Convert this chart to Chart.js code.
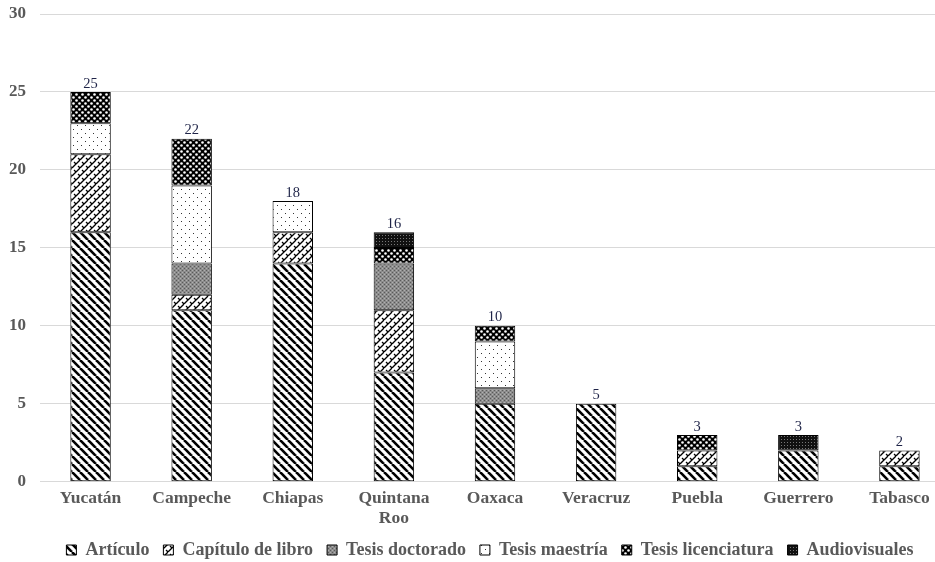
<!DOCTYPE html>
<html>
<head>
<meta charset="utf-8">
<script src="https://cdn.jsdelivr.net/npm/chart.js@4.4.0/dist/chart.umd.min.js"></script>
<style>
  html, body { margin: 0; padding: 0; background: #fff; overflow: hidden; }
  #wrap { width: 955px; height: 562px; }
</style>
</head>
<body>
<div id="wrap"><canvas id="myChart" width="955" height="562"></canvas></div>
<script>
var estados = ['Yucatán', 'Campeche', 'Chiapas', ['Quintana', 'Roo'], 'Oaxaca', 'Veracruz', 'Puebla', 'Guerrero', 'Tabasco'];
var articulo = [16, 11, 14, 7, 5, 5, 1, 2, 1];
var capitulo = [5, 1, 2, 4, 0, 0, 1, 0, 1];
var doctorado = [0, 2, 0, 3, 1, 0, 0, 0, 0];
var maestria = [2, 5, 2, 0, 3, 0, 0, 0, 0];
var licenciatura = [2, 3, 0, 1, 1, 0, 1, 0, 0];
var audiovisuales = [0, 0, 0, 1, 0, 0, 0, 1, 0];
var yTicks = [0, 5, 10, 15, 20, 25, 30];

function tile(size, draw) {
  var c = document.createElement('canvas');
  c.width = size; c.height = size;
  var g = c.getContext('2d');
  draw(g, size);
  return document.getElementById('myChart').getContext('2d').createPattern(c, 'repeat');
}

var patArticulo = tile(8, function(g, s) {
  g.fillStyle = '#fff'; g.fillRect(0, 0, s, s);
  g.strokeStyle = '#000'; g.lineWidth = 2.6;
  for (var k = -1; k <= 1; k++) {
    g.beginPath(); g.moveTo(k * s, 0); g.lineTo(k * s + s, s); g.stroke();
  }
});
var patCapitulo = tile(8, function(g, s) {
  g.fillStyle = '#fff'; g.fillRect(0, 0, s, s);
  g.strokeStyle = '#000'; g.lineWidth = 1.3;
  for (var k = -1; k <= 1; k++) {
    g.beginPath(); g.moveTo(k * s, s); g.lineTo(k * s + s, 0); g.stroke();
  }
  g.beginPath(); g.moveTo(2, 2); g.lineTo(4, 4); g.stroke();
  g.beginPath(); g.moveTo(6, 6); g.lineTo(8, 8); g.stroke();
});
var patDoctorado = tile(4, function(g, s) {
  g.fillStyle = '#8c8c8c'; g.fillRect(0, 0, s, s);
  g.fillStyle = '#5a5a5a';
  g.fillRect(0, 0, 1, 1); g.fillRect(2, 2, 1, 1);
  g.fillStyle = '#b0b0b0';
  g.fillRect(2, 0, 1, 1); g.fillRect(0, 2, 1, 1);
});
var patMaestria = tile(8, function(g, s) {
  g.fillStyle = '#fff'; g.fillRect(0, 0, s, s);
  g.fillStyle = '#333';
  g.fillRect(1, 1, 1, 1); g.fillRect(5, 5, 1, 1);
});
var patLicenciatura = tile(6, function(g, s) {
  g.fillStyle = '#000'; g.fillRect(0, 0, s, s);
  g.fillStyle = '#fff';
  g.beginPath(); g.arc(1.5, 1.5, 1.3, 0, Math.PI * 2); g.fill();
  g.beginPath(); g.arc(4.5, 4.5, 1.3, 0, Math.PI * 2); g.fill();
});
var patAudio = tile(3, function(g, s) {
  g.fillStyle = '#111'; g.fillRect(0, 0, s, s);
  g.fillStyle = '#777';
  g.fillRect(1, 1, 1, 1);
});

var totalsPlugin = {
  id: 'totals',
  afterDatasetsDraw: function(chart) {
    var ctx = chart.ctx;
    var yScale = chart.scales.y;
    var meta = chart.getDatasetMeta(0);
    ctx.save();
    ctx.font = '14.5px "Liberation Serif"';
    ctx.fillStyle = '#1f2448';
    ctx.textAlign = 'center';
    ctx.textBaseline = 'bottom';
    for (var i = 0; i < estados.length; i++) {
      var sum = 0;
      chart.data.datasets.forEach(function(ds) { sum += ds.data[i]; });
      ctx.fillText(sum, meta.data[i].x, yScale.getPixelForValue(sum) - 1);
    }
    ctx.restore();
  }
};

// legend: keep the wide spacing between items but a short box, and nudge it
var legendPlugin = {
  id: 'legendFit',
  beforeInit: function(chart) {
    var orig = chart.legend.fit;
    chart.legend.fit = function() {
      orig.bind(chart.legend)();
      this.height = 26;
    };
  },
  afterLayout: function(chart) {
    var lg = chart.legend;
    lg.top -= 9;
    lg.left += 15; lg.right += 15;
  }
};

function ds(label, data, pat) {
  return {
    label: label, data: data, backgroundColor: pat,
    borderColor: '#000', borderSkipped: false,
    borderWidth: function(c) { return c.raw ? 1 : 0; },
    categoryPercentage: 1, barPercentage: 0.4
  };
}

var myChart = new Chart(document.getElementById('myChart').getContext('2d'), {
  type: 'bar',
  data: {
    labels: estados,
    datasets: [
      ds('Artículo', articulo, patArticulo),
      ds('Capítulo de libro', capitulo, patCapitulo),
      ds('Tesis doctorado', doctorado, patDoctorado),
      ds('Tesis maestría', maestria, patMaestria),
      ds('Tesis licenciatura', licenciatura, patLicenciatura),
      ds('Audiovisuales', audiovisuales, patAudio)
    ]
  },
  options: {
    responsive: false,
    animation: false,
    devicePixelRatio: 1,
    layout: { padding: { top: 14, right: 5, left: 0, bottom: 0 } },
    plugins: {
      tooltip: { enabled: false },
      legend: {
        position: 'bottom',
        labels: {
          boxWidth: 10, boxHeight: 10, padding: 14,
          color: '#595959',
          generateLabels: function(chart) {
            return chart.data.datasets.map(function(d, i) {
              return { text: d.label, fillStyle: d.backgroundColor, strokeStyle: '#000', lineWidth: 1, datasetIndex: i, fontColor: '#595959' };
            });
          },
          font: { family: '"Liberation Serif"', size: 18, weight: 'bold' }
        }
      }
    },
    scales: {
      x: {
        stacked: true,
        grid: { display: false, drawTicks: false },
        border: { color: '#d9d9d9' },
        ticks: {
          color: '#595959', padding: 7,
          font: { family: '"Liberation Serif"', size: 17.5, weight: 'bold', lineHeight: 1.15 },
          maxRotation: 0, autoSkip: false
        }
      },
      y: {
        stacked: true,
        min: 0, max: 30,
        afterBuildTicks: function(scale) { scale.ticks = yTicks.map(function(v) { return { value: v }; }); },
        afterFit: function(scale) { scale.width = 40; scale.paddingTop = 0; },
        grid: { color: '#d9d9d9', drawTicks: false },
        border: { display: false },
        ticks: {
          color: '#595959', padding: 14,
          font: { family: '"Liberation Serif"', size: 17, weight: 'bold' }
        }
      }
    }
  },
  plugins: [totalsPlugin, legendPlugin]
});
</script>
</body>
</html>
